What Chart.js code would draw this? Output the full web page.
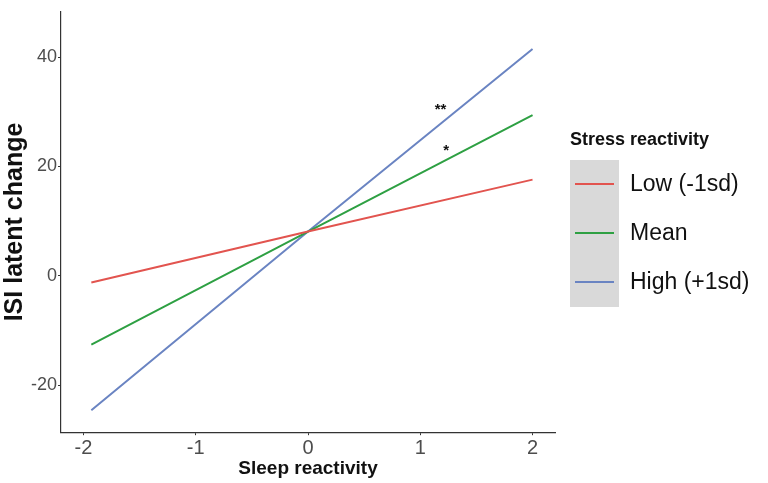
<!DOCTYPE html>
<html>
<head>
<meta charset="utf-8">
<script src="https://cdn.jsdelivr.net/npm/chart.js@4"></script>
<style>
    html, body { margin: 0; padding: 0; background: #fff; }
    #wrap { width: 768px; height: 483px; }
</style>
</head>
<body>
<div id="wrap"><canvas id="isiChart" width="768" height="483"></canvas></div>
<script>
// Data
var sleepReactivity = [-1.93, 0, 2];
var lowValues = [-1.2, 8.1, 17.6];
var meanValues = [-12.6, 8.1, 29.4];
var highValues = [-24.6, 8.1, 41.5];
var seriesNames = ['Low (-1sd)', 'Mean', 'High (+1sd)'];
var xTicks = [-2, -1, 0, 1, 2];
var yTicks = [-20, 0, 20, 40];
// significance marks: [x, y, text]
var starX = [1.18, 1.23];
var starY = [30.3, 22.9];
var starText = ['**', '*'];

var colors = ['#e2544f', '#2ea043', '#6a84c2'];
var font = "'Liberation Sans', Arial, sans-serif";

function pts(vals)
{
    return sleepReactivity.map(function (x, i) { return { x: x, y: vals[i] }; });
}

// Stars + legend
var extras = {
    id: 'extras',
    afterDatasetsDraw: function (chart)
    {
        var c = chart.ctx, xs = chart.scales.x, ys = chart.scales.y;
        c.save();
        c.fillStyle = '#111';
        c.font = 'bold 15px ' + font;
        c.textAlign = 'center';
        c.textBaseline = 'middle';
        for (var i = 0; i < starText.length; i++)
        {
            c.fillText(starText[i], xs.getPixelForValue(starX[i]), ys.getPixelForValue(starY[i]));
        }

        // legend
        c.textAlign = 'left';
        c.fillStyle = '#111';
        c.font = 'bold 18px ' + font;
        c.fillText('Stress reactivity', 570, 140);
        c.fillStyle = '#d9d9d9';
        c.fillRect(570, 160, 49, 147);
        var rows = [184, 233, 282];
        c.font = '23px ' + font;
        for (var j = 0; j < seriesNames.length; j++)
        {
            c.strokeStyle = colors[j];
            c.lineWidth = 2;
            c.beginPath();
            c.moveTo(575, rows[j]);
            c.lineTo(614, rows[j]);
            c.stroke();
            c.fillStyle = '#111';
            c.fillText(seriesNames[j], 630, rows[j] + 1);
        }
        c.restore();
    }
};

var ctx = document.getElementById('isiChart').getContext('2d');
var myChart = new Chart(ctx,
{
    type: 'line',
    data:
    {
        datasets: [lowValues, meanValues, highValues].map(function (v, i)
        {
            return {
                label: seriesNames[i],
                data: pts(v),
                borderColor: colors[i],
                borderWidth: 2,
                pointRadius: 0,
                tension: 0,
                fill: false
            };
        })
    },
    options:
    {
        responsive: false,
        animation: false,
        layout: { padding: { left: 0, right: 213, top: -3, bottom: 0 } },
        plugins: { legend: { display: false }, tooltip: { enabled: false } },
        scales:
        {
            x:
            {
                type: 'linear',
                min: -2.2,
                max: 2.2,
                afterBuildTicks: function (s) { s.ticks = xTicks.map(function (v) { return { value: v }; }); },
                grid: { drawOnChartArea: false, drawTicks: true, tickLength: 3, color: '#333' },
                border: { color: '#333', width: 1.2 },
                ticks: { color: '#4d4d4d', font: { family: font, size: 20 }, padding: 1 },
                title: { display: true, text: 'Sleep reactivity', color: '#111', font: { family: font, size: 19, weight: 'bold' }, padding: { top: -4, bottom: 3 } }
            },
            y:
            {
                min: -28.6,
                max: 48.3,
                afterBuildTicks: function (s) { s.ticks = yTicks.map(function (v) { return { value: v }; }); },
                grid: { drawOnChartArea: false, drawTicks: true, tickLength: 3, color: '#333' },
                border: { color: '#333', width: 1.2 },
                ticks: { color: '#4d4d4d', font: { family: font, size: 18 }, padding: 1 },
                title: { display: true, text: 'ISI latent change', color: '#111', font: { family: font, size: 25, weight: 'bold' }, padding: { top: 0, bottom: 0 } }
            }
        }
    },
    plugins: [extras]
});
</script>
</body>
</html>
